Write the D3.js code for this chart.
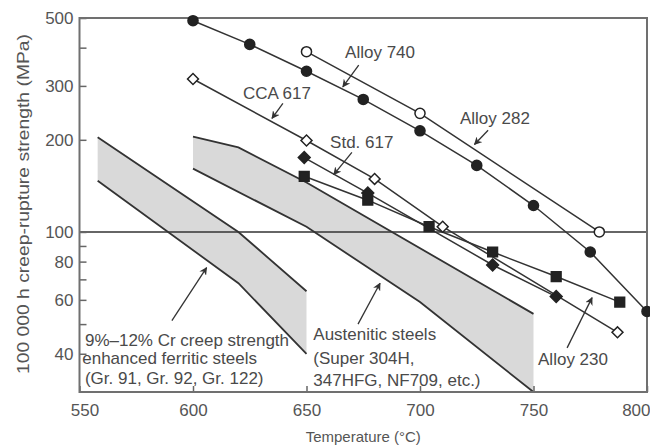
<!DOCTYPE html>
<html>
<head>
<meta charset="utf-8">
<script src="https://cdn.jsdelivr.net/npm/d3@7"></script>
<style>
body{margin:0;background:#fff;}
svg{display:block;font-family:"Liberation Sans",Arial,sans-serif;}
</style>
</head>
<body>
<div id="chart"></div>
<script>
// temperature (°C) / 100 000 h creep-rupture strength (MPa)
var alloy740Temp = [600,625,650,675,700,725,750,775,800];
var alloy740Str  = [490,410,335,271,214,165,122,86,55];

var alloy282Temp = [650,700,779];
var alloy282Str  = [388,244,100];

var cca617Temp = [600,650,680,710,787];
var cca617Str  = [316,199,149,104,47];

var std617Temp = [649,677,732,760];
var std617Str  = [175,134,78,61.5];

var alloy230Temp = [649,677,704,732,760,788];
var alloy230Str  = [152,127,104,86,71.5,59];

// scatter bands (upper / lower bounds)
var ferUpperTemp = [558,620,650];
var ferUpperStr  = [204,100,64];
var ferLowerTemp = [558,620,650];
var ferLowerStr  = [147,68,40];

var ausUpperTemp = [600,620,650,750];
var ausUpperStr  = [205,189,145,54];
var ausLowerTemp = [600,650,700,750];
var ausLowerStr  = [161,104,59,30];

// ticks
var xTicks = [550,600,650,700,750,800];
var yTicks = [40,50,60,70,80,90,100,200,300,400,500];
var yLabels = [40,60,80,100,200,300,500];

// svg dims
var svgWidth = 650;
var svgHeight = 447;
var margin = {top: 18, right: 3, bottom: 55, left: 79.5};

var svg = d3.select("#chart")
    .append("svg")
    .attr("width", svgWidth)
    .attr("height", svgHeight);

var x = d3.scaleLinear()
    .domain([550, 800])
    .range([margin.left, svgWidth - margin.right]);

var y = d3.scaleLog()
    .domain([30, 500])
    .range([svgHeight - margin.bottom, margin.top]);

var zip = (t, s) => t.map((v, i) => [v, s[i]]);

var line = d3.line()
    .x(d => x(d[0]))
    .y(d => y(d[1]));

// bands
function band(upT, upS, loT, loS) {
    var up = zip(upT, upS);
    var lo = zip(loT, loS);
    svg.append("path")
        .attr("d", line(up.concat(lo.slice().reverse())) + "Z")
        .attr("fill", "#d9d9d9")
        .attr("stroke", "none");
    [up, lo].forEach(p => {
        svg.append("path")
            .attr("d", line(p))
            .attr("fill", "none")
            .attr("stroke", "#333")
            .attr("stroke-width", 1.8);
    });
}
band(ferUpperTemp, ferUpperStr, ferLowerTemp, ferLowerStr);
band(ausUpperTemp, ausUpperStr, ausLowerTemp, ausLowerStr);

// 100 MPa line
svg.append("line")
    .attr("x1", x(550)).attr("x2", x(800))
    .attr("y1", y(100)).attr("y2", y(100))
    .attr("stroke", "#333")
    .attr("stroke-width", 1.5);

// axes
var leftAxis = d3.axisLeft(y)
    .tickValues(yTicks)
    .tickSizeInner(-7)
    .tickSizeOuter(0)
    .tickPadding(6)
    .tickFormat(d => yLabels.indexOf(d) >= 0 ? d : "");

var bottomAxis = d3.axisBottom(x)
    .tickValues(xTicks)
    .tickSizeInner(-6)
    .tickSizeOuter(0)
    .tickPadding(12)
    .tickFormat(d3.format("d"));

var gy = svg.append("g")
    .attr("transform", `translate(${margin.left},0)`)
    .call(leftAxis);
var gx = svg.append("g")
    .attr("transform", `translate(0,${svgHeight - margin.bottom})`)
    .call(bottomAxis);

[gx, gy].forEach(g => {
    g.select(".domain").remove();
    g.selectAll(".tick line").attr("stroke", "#666").attr("stroke-width", 1.5);
    g.selectAll(".tick text")
        .attr("fill", "#555")
        .attr("font-size", 17)
        .attr("font-family", "Liberation Sans, Arial, sans-serif");
});
// end labels nudged inside the window, as in the figure
gx.selectAll(".tick text")
    .filter(d => d === 550)
    .attr("dx", 5);
gx.selectAll(".tick text")
    .filter(d => d === 800)
    .attr("text-anchor", "end")
    .attr("dx", 3);

// frame
svg.append("rect")
    .attr("x", x(550)).attr("y", y(500))
    .attr("width", x(800) - x(550))
    .attr("height", y(30) - y(500))
    .attr("fill", "none")
    .attr("stroke", "#707070")
    .attr("stroke-width", 2);

// series
var series = [
    {t: alloy740Temp, s: alloy740Str, shape: d3.symbolCircle, size: 80, fill: "#222", rot: 0},
    {t: alloy282Temp, s: alloy282Str, shape: d3.symbolCircle, size: 80, fill: "#fff", rot: 0},
    {t: cca617Temp, s: cca617Str, shape: d3.symbolSquare, size: 60, fill: "#fff", rot: 45},
    {t: std617Temp, s: std617Str, shape: d3.symbolSquare, size: 70, fill: "#222", rot: 45},
    {t: alloy230Temp, s: alloy230Str, shape: d3.symbolSquare, size: 95, fill: "#222", rot: 0}
];

series.forEach(sr => {
    svg.append("path")
        .attr("d", line(zip(sr.t, sr.s)))
        .attr("fill", "none")
        .attr("stroke", "#333")
        .attr("stroke-width", 1.5);
});
series.forEach(sr => {
    svg.selectAll(null)
        .data(zip(sr.t, sr.s))
        .enter()
        .append("path")
        .attr("d", d3.symbol().type(sr.shape).size(sr.size))
        .attr("transform", d => `translate(${x(d[0])},${y(d[1])}) rotate(${sr.rot})`)
        .attr("fill", sr.fill)
        .attr("stroke", "#222")
        .attr("stroke-width", 1.5);
});

// annotations (data coordinates)
svg.append("defs").append("marker")
    .attr("id", "arr")
    .attr("viewBox", "0 0 10 10")
    .attr("refX", 9).attr("refY", 5)
    .attr("markerWidth", 8).attr("markerHeight", 8)
    .attr("markerUnits", "userSpaceOnUse")
    .attr("orient", "auto")
    .append("path")
    .attr("d", "M0,0L10,5L0,10L3,5Z")
    .attr("fill", "#333");

var notes = [
    {lines: ["Alloy 740"], t: [667], s: [387], from: [673, 351], to: [666, 298]},
    {lines: ["CCA 617"], t: [622], s: [284], from: [639.6, 263], to: [634.8, 235]},
    {lines: ["Std. 617"], t: [660.4], s: [196], from: [670, 182], to: [662, 154]},
    {lines: ["Alloy 282"], t: [717.6], s: [235], from: [730, 215], to: [724, 193]},
    {lines: ["Alloy 230"], t: [752], s: [38.5], from: [764.8, 41.8], to: [775.8, 61]},
    {lines: ["Austenitic steels", "(Super 304H,", "347HFG, NF709, etc.)"],
        t: [653, 653, 653], s: [46.5, 38.8, 32.9], from: [672.7, 50], to: [682.4, 68]},
    {lines: ["9%\u201312% Cr creep strength", "enhanced ferritic steels", "(Gr. 91, Gr. 92, Gr. 122)"],
        t: [552.4, 551.2, 552.4], s: [44.3, 38.6, 33.4], from: [590.7, 51.3], to: [606, 76.5]}
];

notes.forEach(n => {
    svg.append("line")
        .attr("x1", x(n.from[0])).attr("y1", y(n.from[1]))
        .attr("x2", x(n.to[0])).attr("y2", y(n.to[1]))
        .attr("stroke", "#333")
        .attr("stroke-width", 1.3)
        .attr("marker-end", "url(#arr)");
    n.lines.forEach((l, i) => {
        svg.append("text")
            .attr("x", x(n.t[i]))
            .attr("y", y(n.s[i]))
            .attr("dy", "0.35em")
            .attr("font-size", 17)
            .attr("fill", "#4a4a4a")
            .text(l);
    });
});

// axis titles
svg.append("text")
    .attr("x", (x(550) + x(800)) / 2)
    .attr("y", 437)
    .attr("dy", "0.35em")
    .attr("text-anchor", "middle")
    .attr("font-size", 15)
    .attr("fill", "#555")
    .text("Temperature (\u00b0C)");

svg.append("text")
    .attr("transform", "rotate(-90)")
    .attr("x", -204)
    .attr("y", 23)
    .attr("dy", "0.35em")
    .attr("text-anchor", "middle")
    .attr("font-size", 16)
    .attr("textLength", 340)
    .attr("lengthAdjust", "spacingAndGlyphs")
    .attr("fill", "#555")
    .text("100 000 h creep-rupture strength (MPa)");
</script>
</body>
</html>
